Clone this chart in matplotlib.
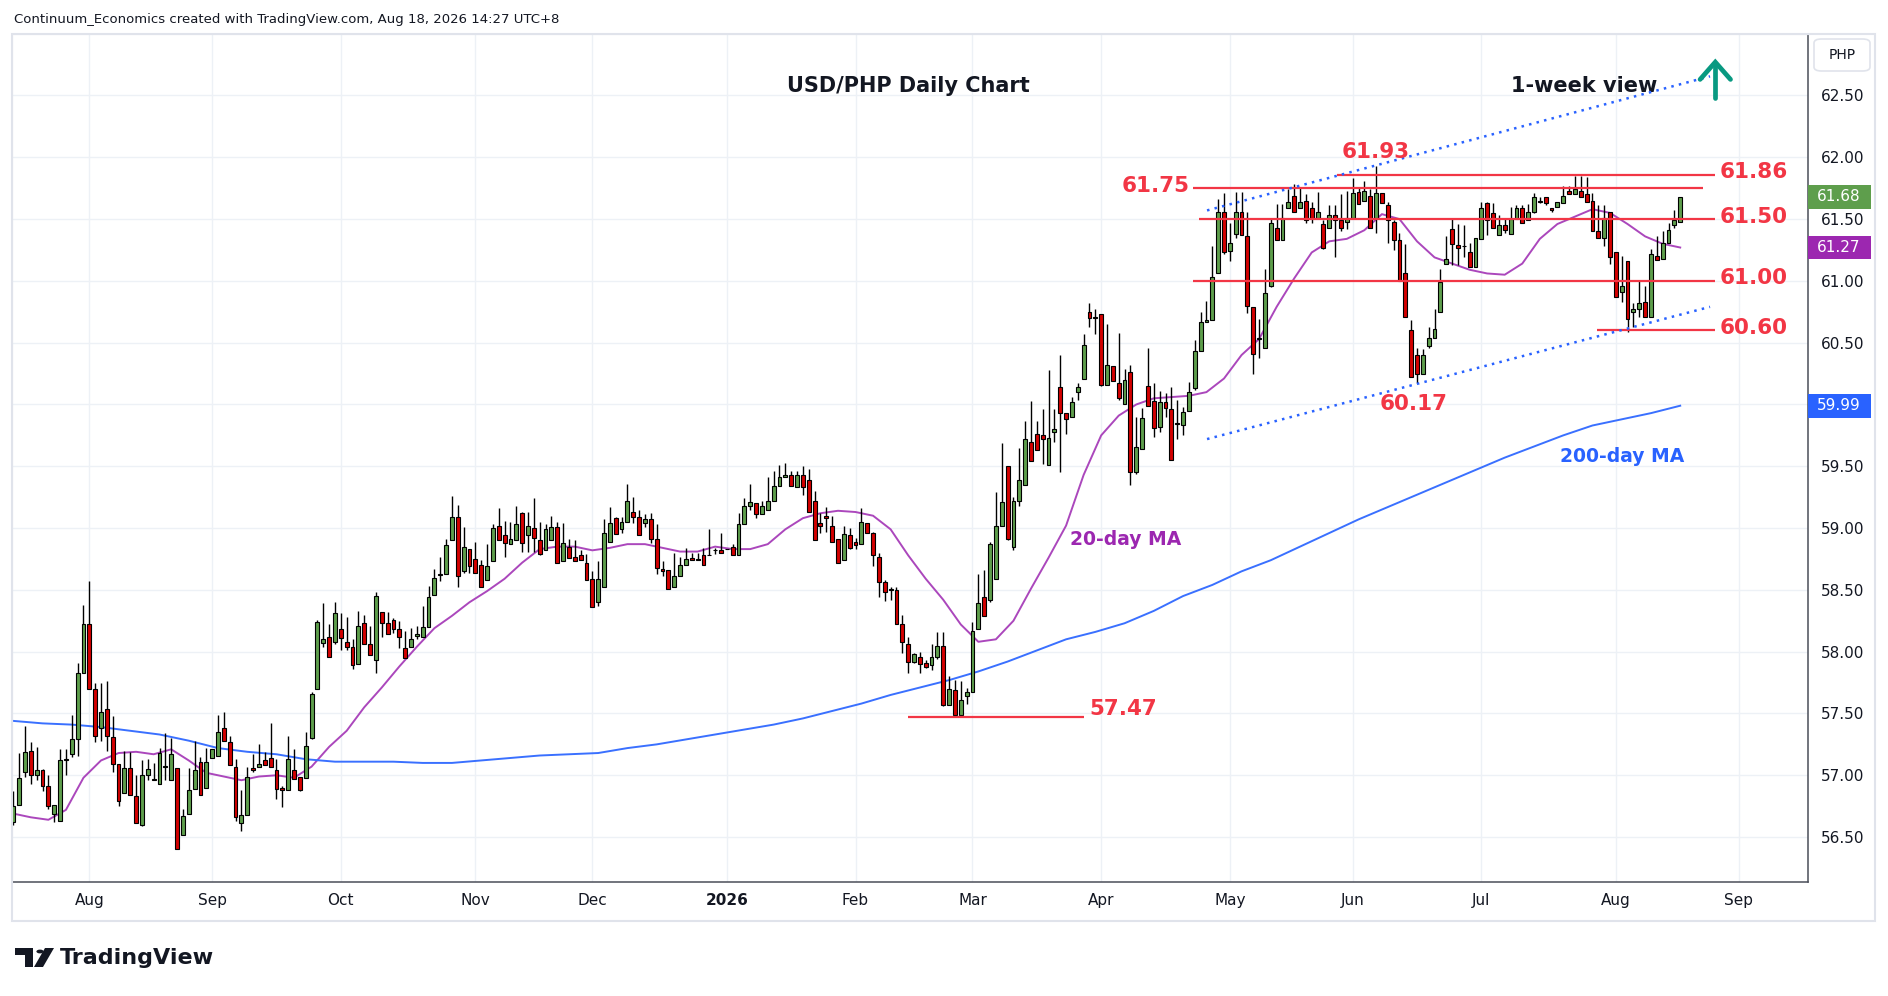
import numpy as np
import pandas as pd
import matplotlib
matplotlib.use("Agg")
import matplotlib.pyplot as plt
import matplotlib.transforms as mtransforms
from matplotlib.patches import Rectangle, Circle, Polygon, FancyBboxPatch

# daily USD/PHP candles, one tuple per weekday: (open, high, low, close)
jul25 = [
    (56.62, 56.87, 56.60, 56.75), (56.76, 57.18, 56.76, 56.98), (57.03, 57.40, 56.99, 57.19),
    (57.20, 57.27, 56.93, 57.00), (57.00, 57.23, 56.96, 57.04), (57.04, 57.05, 56.87, 56.91),
    (56.91, 57.00, 56.73, 56.75), (56.69, 56.76, 56.62, 56.76), (56.63, 57.21, 56.63, 57.12),
    (57.12, 57.21, 57.00, 57.13), (57.17, 57.49, 57.15, 57.29), (57.29, 57.91, 57.16, 57.83),
    (57.83, 58.38, 57.83, 58.22),
]
aug25 = [
    (58.22, 58.57, 57.70, 57.70), (57.70, 57.75, 57.27, 57.32), (57.38, 57.75, 57.28, 57.51),
    (57.54, 57.76, 57.20, 57.32), (57.31, 57.48, 57.03, 57.09), (57.09, 57.09, 56.75, 56.79),
    (56.86, 57.20, 56.86, 57.06), (57.06, 57.19, 56.84, 56.84), (56.83, 57.00, 56.61, 56.61),
    (56.60, 57.12, 56.59, 57.00), (57.00, 57.13, 56.96, 57.05), (56.97, 57.10, 56.96, 56.96),
    (56.93, 57.22, 56.93, 57.18), (57.07, 57.34, 56.96, 57.07), (56.96, 57.30, 56.96, 57.17),
    (57.06, 57.06, 56.40, 56.40), (56.52, 56.73, 56.52, 56.67), (56.69, 57.06, 56.69, 56.88),
    (56.89, 57.28, 56.89, 57.04), (57.11, 57.15, 56.84, 56.84), (56.90, 57.22, 56.90, 57.11),
]
sep25 = [
    (57.14, 57.21, 57.14, 57.21), (57.16, 57.49, 57.16, 57.35), (57.38, 57.51, 57.28, 57.28),
    (57.27, 57.32, 57.08, 57.08), (57.07, 57.13, 56.63, 56.66), (56.61, 56.88, 56.55, 56.68),
    (56.68, 57.07, 56.68, 56.99), (57.06, 57.17, 57.03, 57.04), (57.07, 57.25, 57.07, 57.09),
    (57.12, 57.19, 57.08, 57.08), (57.14, 57.42, 57.07, 57.07), (57.04, 57.13, 56.81, 56.89),
    (56.90, 56.91, 56.74, 56.88), (56.88, 57.32, 56.88, 57.13), (57.04, 57.21, 56.97, 56.97),
    (56.99, 56.99, 56.87, 56.88), (56.98, 57.35, 56.98, 57.24), (57.30, 57.67, 57.29, 57.66),
    (57.70, 58.26, 57.70, 58.24), (58.07, 58.39, 58.04, 58.10), (58.12, 58.22, 57.96, 57.96),
    (58.08, 58.40, 58.06, 58.31),
]
oct25 = [
    (58.18, 58.31, 58.01, 58.11), (58.08, 58.28, 58.01, 58.04), (58.04, 58.10, 57.86, 57.89),
    (57.90, 58.33, 57.90, 58.21), (58.23, 58.30, 58.06, 58.06), (58.06, 58.21, 57.97, 57.97),
    (57.93, 58.48, 57.83, 58.45), (58.32, 58.32, 58.12, 58.23), (58.23, 58.32, 58.14, 58.14),
    (58.26, 58.27, 58.15, 58.18), (58.18, 58.25, 58.03, 58.12), (58.03, 58.17, 57.95, 57.95),
    (58.04, 58.19, 58.04, 58.10), (58.13, 58.21, 58.10, 58.14), (58.12, 58.37, 58.12, 58.20),
    (58.20, 58.53, 58.20, 58.44), (58.46, 58.67, 58.46, 58.60), (58.62, 58.77, 58.57, 58.63),
    (58.63, 58.91, 58.63, 58.86), (58.90, 59.26, 58.90, 59.09), (59.09, 59.19, 58.52, 58.61),
    (58.65, 59.01, 58.64, 58.85), (58.83, 58.83, 58.64, 58.69),
]
nov25 = [
    (58.75, 58.89, 58.64, 58.64), (58.70, 58.74, 58.52, 58.52), (58.58, 58.87, 58.58, 58.69),
    (58.73, 59.03, 58.73, 59.00), (59.02, 59.16, 58.90, 58.90), (58.94, 59.06, 58.77, 58.88),
    (58.87, 59.05, 58.87, 58.91), (58.90, 59.18, 58.90, 59.03), (59.12, 59.13, 58.81, 58.88),
    (58.94, 59.13, 58.81, 59.02), (59.00, 59.24, 58.81, 58.92), (58.90, 59.05, 58.78, 58.79),
    (58.82, 59.03, 58.82, 58.99), (58.90, 59.10, 58.90, 59.01), (59.01, 59.05, 58.72, 58.72),
    (58.73, 59.04, 58.73, 58.88), (58.85, 58.91, 58.76, 58.76), (58.77, 58.90, 58.73, 58.73),
    (58.78, 58.82, 58.74, 58.74), (58.72, 58.79, 58.58, 58.58),
]
dec25 = [
    (58.59, 58.65, 58.36, 58.36), (58.40, 58.73, 58.37, 58.59), (58.52, 59.07, 58.52, 58.96),
    (58.89, 59.17, 58.89, 59.04), (59.08, 59.09, 58.95, 58.95), (58.99, 59.09, 58.96, 59.05),
    (59.05, 59.36, 59.05, 59.22), (59.13, 59.25, 59.04, 59.09), (59.09, 59.15, 58.94, 58.94),
    (59.04, 59.11, 59.01, 59.07), (59.07, 59.12, 58.88, 58.91), (58.91, 59.03, 58.63, 58.68),
    (58.67, 58.73, 58.61, 58.65), (58.66, 58.66, 58.51, 58.51), (58.52, 58.80, 58.52, 58.61),
    (58.61, 58.77, 58.61, 58.70), (58.70, 58.84, 58.70, 58.75), (58.76, 58.80, 58.74, 58.74),
    (58.75, 58.80, 58.74, 58.74), (58.78, 58.84, 58.70, 58.70), (58.78, 58.99, 58.78, 58.78),
    (58.82, 58.84, 58.79, 58.82), (58.82, 58.96, 58.80, 58.80),
]
jan26 = [
    (58.83, 58.83, 58.83, 58.83), (58.85, 58.87, 58.78, 58.78), (58.78, 59.12, 58.78, 59.03),
    (59.03, 59.24, 59.03, 59.18), (59.18, 59.36, 59.15, 59.21), (59.20, 59.20, 59.08, 59.11),
    (59.11, 59.22, 59.11, 59.18), (59.15, 59.41, 59.15, 59.22), (59.22, 59.46, 59.22, 59.34),
    (59.34, 59.51, 59.34, 59.41), (59.41, 59.53, 59.41, 59.43), (59.43, 59.46, 59.34, 59.34),
    (59.33, 59.46, 59.33, 59.43), (59.43, 59.50, 59.27, 59.33), (59.39, 59.48, 59.13, 59.13),
    (59.22, 59.30, 58.90, 58.90), (59.04, 59.12, 58.96, 59.02), (59.10, 59.17, 58.97, 59.08),
    (59.02, 59.10, 58.89, 58.89), (58.91, 58.91, 58.72, 58.72), (58.74, 59.02, 58.74, 58.95),
    (58.94, 59.00, 58.83, 58.84),
]
feb26 = [
    (58.89, 58.92, 58.83, 58.86), (58.87, 59.16, 58.87, 59.05), (59.04, 59.04, 58.96, 58.96),
    (58.96, 58.97, 58.69, 58.78), (58.77, 58.80, 58.44, 58.56), (58.56, 58.58, 58.41, 58.48),
    (58.50, 58.52, 58.42, 58.50), (58.50, 58.52, 58.22, 58.22), (58.22, 58.30, 57.99, 58.08),
    (58.06, 58.12, 57.83, 57.92), (57.92, 57.99, 57.91, 57.98), (57.96, 58.00, 57.83, 57.90),
    (57.91, 57.93, 57.87, 57.88), (57.89, 58.06, 57.85, 57.96), (57.96, 58.16, 57.94, 58.05),
    (58.05, 58.16, 57.56, 57.57), (57.57, 57.80, 57.57, 57.70), (57.69, 57.77, 57.47, 57.49),
    (57.49, 57.76, 57.49, 57.61), (57.64, 57.71, 57.58, 57.67),
]
mar26 = [
    (57.67, 58.24, 57.67, 58.17), (58.18, 58.63, 58.18, 58.39), (58.44, 58.66, 58.29, 58.29),
    (58.42, 58.89, 58.40, 58.87), (58.59, 59.29, 58.59, 59.02), (59.02, 59.69, 59.02, 59.21),
    (59.50, 59.50, 58.90, 58.91), (58.85, 59.25, 58.82, 59.22), (59.22, 59.65, 59.18, 59.39),
    (59.35, 59.87, 59.35, 59.72), (59.70, 60.03, 59.54, 59.54), (59.76, 59.87, 59.63, 59.63),
    (59.75, 59.96, 59.52, 59.72), (59.51, 60.28, 59.51, 59.73), (59.78, 59.96, 59.70, 59.80),
    (60.14, 60.40, 59.45, 59.93), (59.93, 59.93, 59.76, 59.88), (59.90, 60.06, 59.90, 60.02),
    (60.10, 60.17, 60.04, 60.14), (60.21, 60.57, 60.21, 60.48), (60.75, 60.82, 60.63, 60.70),
    (60.70, 60.77, 60.57, 60.70),
]
apr26 = [
    (60.73, 60.73, 60.15, 60.16), (60.16, 60.65, 60.16, 60.32), (60.31, 60.31, 60.19, 60.19),
    (60.17, 60.58, 60.04, 60.05), (60.00, 60.29, 60.00, 60.20), (60.26, 60.32, 59.35, 59.45),
    (59.45, 59.90, 59.44, 59.66), (59.64, 59.97, 59.64, 59.89), (60.15, 60.46, 59.99, 59.99),
    (60.03, 60.17, 59.74, 59.81), (59.82, 60.11, 59.78, 60.02), (60.02, 60.09, 59.90, 59.97),
    (59.96, 60.14, 59.55, 59.55), (59.85, 60.04, 59.72, 59.84), (59.83, 59.98, 59.75, 59.94),
    (59.95, 60.18, 59.95, 60.10), (60.13, 60.52, 60.12, 60.43), (60.43, 60.75, 60.43, 60.67),
    (60.67, 60.84, 60.67, 60.68), (60.68, 61.28, 60.68, 61.03), (61.06, 61.66, 61.06, 61.56),
    (61.56, 61.71, 61.22, 61.23),
]
may26 = [
    (61.24, 61.47, 61.16, 61.31), (61.38, 61.72, 61.35, 61.56), (61.56, 61.72, 61.37, 61.37),
    (61.36, 61.56, 60.74, 60.80), (60.79, 60.79, 60.25, 60.41), (60.53, 60.69, 60.38, 60.53),
    (60.46, 61.10, 60.46, 60.90), (60.96, 61.51, 60.95, 61.47), (61.43, 61.62, 61.33, 61.33),
    (61.33, 61.62, 61.33, 61.51), (61.59, 61.74, 61.59, 61.64), (61.69, 61.78, 61.56, 61.56),
    (61.59, 61.75, 61.59, 61.64), (61.65, 61.70, 61.47, 61.49), (61.59, 61.64, 61.47, 61.51),
    (61.51, 61.72, 61.51, 61.56), (61.46, 61.49, 61.26, 61.27), (61.43, 61.61, 61.43, 61.53),
    (61.53, 61.61, 61.19, 61.49), (61.49, 61.70, 61.40, 61.43), (61.48, 61.73, 61.42, 61.51),
]
jun26 = [
    (61.51, 61.83, 61.51, 61.71), (61.72, 61.75, 61.62, 61.62), (61.65, 61.81, 61.65, 61.73),
    (61.69, 61.74, 61.43, 61.43), (61.51, 61.93, 61.39, 61.71), (61.71, 61.71, 61.63, 61.63),
    (61.61, 61.64, 61.31, 61.49), (61.48, 61.49, 61.25, 61.33), (61.33, 61.39, 61.00, 61.00),
    (61.06, 61.30, 60.71, 60.71), (60.60, 60.68, 60.22, 60.22), (60.40, 60.46, 60.17, 60.25),
    (60.25, 60.45, 60.25, 60.40), (60.47, 60.63, 60.46, 60.54), (60.54, 60.77, 60.54, 60.61),
    (60.75, 61.10, 60.75, 60.99), (61.14, 61.36, 61.14, 61.18), (61.42, 61.51, 61.13, 61.30),
    (61.29, 61.46, 61.13, 61.27), (61.28, 61.45, 61.19, 61.28), (61.23, 61.31, 61.11, 61.11),
    (61.11, 61.35, 61.11, 61.35),
]
jul26 = [
    (61.34, 61.64, 61.34, 61.59), (61.63, 61.64, 61.37, 61.49), (61.55, 61.63, 61.43, 61.43),
    (61.37, 61.53, 61.37, 61.45), (61.45, 61.50, 61.39, 61.41), (61.38, 61.60, 61.38, 61.50),
    (61.50, 61.61, 61.50, 61.59), (61.59, 61.61, 61.47, 61.47), (61.49, 61.62, 61.49, 61.56),
    (61.56, 61.71, 61.55, 61.68), (61.64, 61.68, 61.63, 61.64), (61.68, 61.68, 61.61, 61.63),
    (61.59, 61.59, 61.56, 61.57), (61.60, 61.64, 61.60, 61.64), (61.63, 61.77, 61.63, 61.69),
    (61.73, 61.77, 61.70, 61.70), (61.70, 61.85, 61.70, 61.74), (61.73, 61.85, 61.68, 61.68),
    (61.70, 61.84, 61.64, 61.64), (61.65, 61.71, 61.40, 61.40), (61.40, 61.61, 61.35, 61.35),
    (61.35, 61.61, 61.28, 61.51), (61.56, 61.56, 61.14, 61.19),
]
aug26 = [
    (61.23, 61.23, 60.87, 60.87), (60.91, 61.20, 60.83, 60.96), (61.16, 61.16, 60.59, 60.69),
    (60.75, 60.82, 60.63, 60.77), (60.77, 61.01, 60.71, 60.82), (60.83, 60.96, 60.71, 60.71),
    (60.71, 61.26, 60.71, 61.22), (61.20, 61.36, 61.17, 61.17), (61.18, 61.40, 61.18, 61.31),
    (61.31, 61.47, 61.31, 61.41), (61.45, 61.57, 61.43, 61.49), (61.48, 61.68, 61.48, 61.68),
]

# 20-day MA read every 3 bars, 200-day MA read every 5 bars
ma20_step = 3
ma20 = [56.69, 56.66, 56.64, 56.72, 56.98, 57.12, 57.18, 57.19, 57.17, 57.21, 57.12, 57.02,
        56.99, 56.96, 56.99, 57.00, 56.98, 57.07, 57.23, 57.36, 57.55, 57.71, 57.88, 58.04,
        58.19, 58.29, 58.40, 58.49, 58.59, 58.72, 58.83, 58.85, 58.85, 58.82, 58.84, 58.87,
        58.87, 58.84, 58.81, 58.81, 58.85, 58.83, 58.83, 58.87, 58.99, 59.08, 59.12, 59.14,
        59.13, 59.10, 58.99, 58.78, 58.59, 58.42, 58.22, 58.08, 58.10, 58.25, 58.51, 58.76,
        59.02, 59.43, 59.75, 59.91, 60.00, 60.05, 60.06, 60.07, 60.10, 60.21, 60.40, 60.53,
        60.79, 61.02, 61.23, 61.32, 61.34, 61.41, 61.54, 61.50, 61.32, 61.19, 61.14, 61.09,
        61.06, 61.05, 61.14, 61.34, 61.46, 61.52, 61.58, 61.55, 61.46, 61.36, 61.30, 61.27]
ma200_step = 5
ma200 = [57.44, 57.42, 57.41, 57.39, 57.36, 57.33, 57.28, 57.22, 57.19, 57.17, 57.13, 57.11,
         57.11, 57.11, 57.10, 57.10, 57.12, 57.14, 57.16, 57.17, 57.18, 57.22, 57.25, 57.29,
         57.33, 57.37, 57.41, 57.46, 57.52, 57.58, 57.65, 57.71, 57.77, 57.84, 57.92, 58.01,
         58.10, 58.16, 58.23, 58.33, 58.45, 58.54, 58.65, 58.74, 58.85, 58.96, 59.07, 59.17,
         59.27, 59.37, 59.47, 59.57, 59.66, 59.75, 59.83, 59.88, 59.93, 59.99]

# drawn levels: value, first bar, last bar
levels = [(61.86, 226.4, 291.0), (61.75, 201.7, 288.9), (61.50, 202.8, 291.0),
          (61.00, 201.7, 291.0), (60.60, 270.7, 291.0), (57.47, 152.9, 183.1)]
# dotted channel: (bar, price) at each end
chan_top = [(204.1, 61.57), (290.1, 62.655)]
chan_bot = [(204.1, 59.72), (290.1, 60.79)]

candles = (jul25 + aug25 + sep25 + oct25 + nov25 + dec25 + jan26 + feb26 +
           mar26 + apr26 + may26 + jun26 + jul26 + aug26)
opens = np.array([c[0] for c in candles])
highs = np.array([c[1] for c in candles])
lows = np.array([c[2] for c in candles])
closes = np.array([c[3] for c in candles])
x = np.arange(len(candles))

days = pd.bdate_range("2025-07-15", "2026-09-30")
month_pos = [i for i in range(1, len(days)) if days[i].month != days[i - 1].month and i < 306]
month_lbl = ["2026" if days[i].month == 1 else days[i].strftime("%b") for i in month_pos]

GREEN = "#5e9e4c"
RED = "#d40000"
LRED = "#f23645"
BLUE = "#2962ff"
PURPLE = "#9c27b0"
TXT = "#131722"

W, H = 1888, 996
fig = plt.figure(figsize=(W / 100, H / 100), dpi=100)
fig.patch.set_facecolor("white")
ax = fig.add_axes([12 / W, 1 - 881.7 / H, (1808 - 12) / W, (881.7 - 34.3) / H])
ax.set_xlim(-0.22, 306.85)
ax.set_ylim(56.139, 62.995)

ax.set_xticks(month_pos)
ax.set_xticklabels(month_lbl)
for lab in ax.get_xticklabels():
    if lab.get_text() == "2026":
        lab.set_fontweight("bold")
ax.yaxis.tick_right()
yt = np.arange(56.5, 62.51, 0.5)
ax.set_yticks(yt)
ax.set_yticklabels([f"{v:.2f}" for v in yt])
ax.tick_params(axis="y", length=0, pad=9, labelsize=11, labelcolor=TXT)
ax.tick_params(axis="x", length=0, pad=8, labelsize=11, labelcolor=TXT)
ax.grid(True, color="#edf1f6", lw=1.0, zorder=0)
ax.set_axisbelow(True)
for s in ["top", "left"]:
    ax.spines[s].set_color("#e0e3eb")
for s in ["right", "bottom"]:
    ax.spines[s].set_color("#4a4e59")
    ax.spines[s].set_linewidth(1.1)

# moving averages
ax.plot(np.arange(len(ma20)) * ma20_step, ma20, color="#ab47bc", lw=1.4, zorder=2)
ax.plot(np.arange(len(ma200)) * ma200_step, ma200, color="#3a70ff", lw=1.4, zorder=2)

# candles
up = closes >= opens
body_lo = np.minimum(opens, closes)
body_h = np.maximum(np.abs(closes - opens), 0.004)
ax.vlines(x, lows, highs, color="black", lw=1.0, zorder=3)
ax.bar(x, body_h, bottom=body_lo, width=0.66, color=np.where(up, GREEN, RED),
       edgecolor="black", linewidth=0.8, zorder=4)

# levels and channel
for v, a, b in levels:
    ax.plot([a, b], [v, v], color=LRED, lw=1.6, zorder=5, solid_capstyle="butt")
for ln in (chan_top, chan_bot):
    ax.plot([ln[0][0], ln[1][0]], [ln[0][1], ln[1][1]], color=BLUE, lw=1.8,
            linestyle=(0, (1, 2.1)), zorder=5)

lab_kw = dict(color=LRED, fontsize=15.5, fontweight="bold", va="center", zorder=6)
for v in (61.86, 61.50, 61.00, 60.60):
    ax.text(291.8, v + 0.02, f"{v:.2f}", ha="left", **lab_kw)
ax.text(201.1, 61.77, "61.75", ha="right", **lab_kw)
ax.text(233.0, 62.04, "61.93", ha="center", **lab_kw)
ax.text(239.4, 60.0, "60.17", ha="center", **lab_kw)
ax.text(183.9, 57.54, "57.47", ha="left", **lab_kw)

ax.text(153.1, 62.575, "USD/PHP Daily Chart", ha="center", va="center", fontsize=15,
        fontweight="bold", color=TXT)
ax.text(268.6, 62.575, "1-week view", ha="center", va="center", fontsize=15,
        fontweight="bold", color=TXT)
ax.text(190.2, 58.91, "20-day MA", ha="center", va="center", fontsize=13.5,
        fontweight="bold", color=PURPLE)
ax.text(275.1, 59.58, "200-day MA", ha="center", va="center", fontsize=13.5,
        fontweight="bold", color=BLUE)

# up arrow
ax.plot([291.0, 291.0], [62.48, 62.76], color="#089981", lw=3.4, solid_capstyle="round", zorder=6)
ax.plot([288.4, 291.0, 293.6], [62.63, 62.77, 62.63], color="#089981", lw=3.4,
        solid_capstyle="round", solid_joinstyle="miter", zorder=6)

# price axis boxes
tr = mtransforms.blended_transform_factory(ax.transAxes, ax.transData)
bw = 63 / 1796
for v, col in ((closes[-1], GREEN), (ma20[-1], PURPLE), (ma200[-1], BLUE)):
    ax.add_patch(Rectangle((1.0, v - 0.096), bw, 0.192, transform=tr, facecolor=col,
                           edgecolor="none", clip_on=False, zorder=7))
    ax.text(1.0 + 31 / 1796, v, f"{v:.2f}", transform=tr, ha="center", va="center",
            fontsize=11, color="white", zorder=8)


def fx(px, py):
    return px / W, 1 - py / H


# outer frame, PHP tag, header, logo
fig.add_artist(Rectangle(fx(12, 921), (1875 - 12) / W, (921 - 34) / H, transform=fig.transFigure,
                         fill=False, edgecolor="#e0e3eb", lw=1.5))
fig.add_artist(FancyBboxPatch(fx(1814, 71), 56 / W, 32 / H, boxstyle="round,pad=0,rounding_size=0.004",
                              transform=fig.transFigure, facecolor="white", edgecolor="#e0e3eb", lw=1.2))
fig.text(*fx(1842, 55), "PHP", ha="center", va="center", fontsize=10, color=TXT)
fig.text(*fx(14, 19), "Continuum_Economics created with TradingView.com, Aug 18, 2026 14:27 UTC+8",
         ha="left", va="center", fontsize=9.5, color=TXT)

fig.add_artist(Rectangle(fx(15, 955), 18 / W, 7 / H, transform=fig.transFigure, color=TXT, lw=0))
fig.add_artist(Rectangle(fx(25, 967), 8 / W, 19 / H, transform=fig.transFigure, color=TXT, lw=0))
fig.add_artist(Circle(fx(40, 951.5), 3.6 / W, transform=fig.transFigure, color=TXT, lw=0))
fig.add_artist(Polygon([fx(45, 948), fx(54, 948), fx(43, 967), fx(34, 967)], closed=True,
                       transform=fig.transFigure, color=TXT, lw=0))
fig.text(*fx(60, 958), "TradingView", ha="left", va="center", fontsize=16, fontweight="bold", color=TXT)

fig.savefig("out.png", dpi=100)
